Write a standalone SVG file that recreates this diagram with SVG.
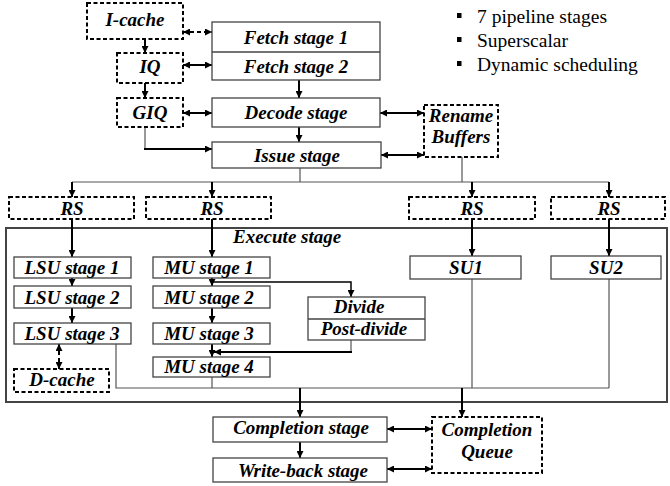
<svg xmlns="http://www.w3.org/2000/svg" width="670" height="486" viewBox="0 0 670 486">
<style>
.box{fill:#fff;stroke:#444;stroke-width:1.3}
.dbox{fill:#fff;stroke:#000;stroke-width:2;stroke-dasharray:4 2.5}
.t{font-family:"Liberation Serif","Times New Roman",serif;font-weight:bold;font-style:italic;font-size:19px;text-anchor:middle;fill:#000}
.b{font-family:"Liberation Serif","Times New Roman",serif;font-size:19.5px;fill:#000}
.thin{fill:none;stroke:#555;stroke-width:1.2}
.arr{fill:none;stroke:#000;stroke-width:2;marker-end:url(#ah)}
.darr{fill:none;stroke:#000;stroke-width:2;marker-end:url(#ah);marker-start:url(#ah)}
.ddarr{fill:none;stroke:#000;stroke-width:2;stroke-dasharray:4 3;marker-end:url(#ah);marker-start:url(#ah)}
</style>
<defs>
<marker id="ah" viewBox="0 0 10 10" refX="10" refY="5" markerWidth="7" markerHeight="7" markerUnits="userSpaceOnUse" orient="auto-start-reverse"><path d="M0,0 L10,5 L0,10 z" fill="#000"/></marker>
</defs>
<rect width="670" height="486" fill="#fff"/>

<g id="execute">
<rect x="6" y="228" width="661" height="174" fill="none" stroke="#444" stroke-width="2"/>
<text class="t" x="233" y="243" style="text-anchor:start">Execute stage</text>
</g>

<g id="connectors">
<line class="arr" x1="145" y1="39" x2="145" y2="53"/>
<line class="arr" x1="145" y1="83" x2="145" y2="98"/>
<line class="ddarr" x1="183" y1="32" x2="212" y2="32"/>
<line class="darr" x1="183" y1="65" x2="212" y2="65"/>
<line class="darr" x1="183" y1="113" x2="212" y2="113"/>
<line class="thin" x1="145" y1="127" x2="145" y2="149"/>
<line class="arr" x1="144" y1="149" x2="212" y2="149"/>
<line class="arr" x1="299" y1="80" x2="299" y2="98"/>
<line class="arr" x1="299" y1="127" x2="299" y2="142"/>
<line class="darr" x1="380" y1="113" x2="424" y2="113"/>
<line class="darr" x1="381" y1="155" x2="424" y2="155"/>
<line class="thin" x1="300" y1="168" x2="300" y2="182"/>
<line class="thin" x1="462" y1="157" x2="462" y2="182"/>
<line class="thin" x1="72" y1="182" x2="609" y2="182"/>
<line class="arr" x1="72" y1="182" x2="72" y2="197"/>
<line class="arr" x1="212" y1="182" x2="212" y2="197"/>
<line class="arr" x1="472" y1="182" x2="472" y2="197"/>
<line class="arr" x1="609" y1="182" x2="609" y2="197"/>
<line class="arr" x1="72" y1="219" x2="72" y2="257"/>
<line class="arr" x1="212" y1="219" x2="212" y2="257"/>
<line class="arr" x1="472" y1="219" x2="472" y2="256"/>
<line class="arr" x1="609" y1="219" x2="609" y2="256"/>
<line class="arr" x1="72" y1="278" x2="72" y2="286"/>
<line class="arr" x1="72" y1="308" x2="72" y2="323"/>
<line class="ddarr" x1="59" y1="344" x2="59" y2="369"/>
<line class="arr" x1="212" y1="278" x2="212" y2="286"/>
<line class="arr" x1="212" y1="308" x2="212" y2="323"/>
<line class="arr" x1="212" y1="344" x2="212" y2="357"/>
<polyline fill="none" stroke="#000" stroke-width="1.5" marker-end="url(#ah)" points="212,282 351,282 351,297"/>
<line class="thin" x1="351" y1="340" x2="351" y2="352"/>
<line class="arr" x1="352" y1="352" x2="214" y2="352"/>
<polyline class="thin" points="116,344 116,388 609,388"/>
<line class="thin" x1="212" y1="377" x2="212" y2="388"/>
<line class="thin" x1="472" y1="279" x2="472" y2="388"/>
<line class="thin" x1="609" y1="279" x2="609" y2="388"/>
<line class="arr" x1="300" y1="388" x2="300" y2="417"/>
<line class="arr" x1="462" y1="388" x2="462" y2="417"/>
<line class="arr" x1="300" y1="442" x2="300" y2="458"/>
<line class="darr" x1="387" y1="429" x2="432" y2="429"/>
<line class="darr" x1="387" y1="469" x2="432" y2="469"/>
</g>

<g id="icache"><rect class="dbox" x="87" y="3" width="96" height="36"/><text class="t" x="135" y="26">I-cache</text></g>
<g id="iq"><rect class="dbox" x="117" y="53" width="66" height="30"/><text class="t" x="150" y="73">IQ</text></g>
<g id="giq"><rect class="dbox" x="117" y="98" width="66" height="29"/><text class="t" x="150" y="119">GIQ</text></g>
<g id="fetch"><rect class="box" x="212" y="22" width="168" height="58"/><line x1="212" y1="52" x2="380" y2="52" stroke="#444" stroke-width="1.3"/>
<text class="t" x="296" y="44">Fetch stage 1</text><text class="t" x="296" y="73">Fetch stage 2</text></g>
<g id="decode"><rect class="box" x="212" y="98" width="168" height="29"/><text class="t" x="296" y="119">Decode stage</text></g>
<g id="issue"><rect class="box" x="212" y="142" width="169" height="26"/><text class="t" x="297" y="162">Issue stage</text></g>
<g id="rename"><rect class="dbox" x="424" y="105" width="74" height="52"/><text class="t" x="461" y="122">Rename</text><text class="t" x="461" y="143">Buffers</text></g>

<g id="bullets">
<rect x="457" y="13" width="4.5" height="5" fill="#000"/><text class="b" x="477" y="23">7 pipeline stages</text>
<rect x="457" y="37" width="4.5" height="5" fill="#000"/><text class="b" x="477" y="47">Superscalar</text>
<rect x="457" y="61" width="4.5" height="5" fill="#000"/><text class="b" x="477" y="71">Dynamic scheduling</text>
</g>

<g id="rs1"><rect class="dbox" x="9" y="197" width="125" height="22"/><text class="t" x="72" y="215">RS</text></g>
<g id="rs2"><rect class="dbox" x="146" y="197" width="125" height="22"/><text class="t" x="212" y="215">RS</text></g>
<g id="rs3"><rect class="dbox" x="409" y="197" width="126" height="22"/><text class="t" x="472" y="215">RS</text></g>
<g id="rs4"><rect class="dbox" x="551" y="197" width="114" height="22"/><text class="t" x="609" y="215">RS</text></g>

<g id="lsu1"><rect class="box" x="14" y="257" width="117" height="21"/><text class="t" x="72" y="274">LSU stage 1</text></g>
<g id="lsu2"><rect class="box" x="14" y="286" width="117" height="22"/><text class="t" x="72" y="304">LSU stage 2</text></g>
<g id="lsu3"><rect class="box" x="14" y="323" width="117" height="21"/><text class="t" x="72" y="340">LSU stage 3</text></g>
<g id="dcache"><rect class="dbox" x="14" y="369" width="95" height="23"/><text class="t" x="62" y="386">D-cache</text></g>
<g id="mu1"><rect class="box" x="153" y="257" width="117" height="21"/><text class="t" x="209" y="274">MU stage 1</text></g>
<g id="mu2"><rect class="box" x="153" y="286" width="117" height="22"/><text class="t" x="209" y="304">MU stage 2</text></g>
<g id="mu3"><rect class="box" x="153" y="323" width="117" height="21"/><text class="t" x="209" y="340">MU stage 3</text></g>
<g id="mu4"><rect class="box" x="153" y="357" width="117" height="20"/><text class="t" x="209" y="373">MU stage 4</text></g>
<g id="divide"><rect class="box" x="308" y="297" width="117" height="43"/><line x1="308" y1="319" x2="425" y2="319" stroke="#444" stroke-width="1.3"/>
<text class="t" x="359" y="313">Divide</text><text class="t" x="364" y="335">Post-divide</text></g>
<g id="su1"><rect class="box" x="410" y="256" width="111" height="23"/><text class="t" x="466" y="274">SU1</text></g>
<g id="su2"><rect class="box" x="551" y="256" width="110" height="23"/><text class="t" x="606" y="274">SU2</text></g>

<g id="completion"><rect class="box" x="213" y="417" width="174" height="25"/><text class="t" x="301" y="434">Completion stage</text></g>
<g id="writeback"><rect class="box" x="213" y="458" width="174" height="24"/><text class="t" x="303" y="477">Write-back stage</text></g>
<g id="cqueue"><rect class="dbox" x="432" y="417" width="110" height="56"/><text class="t" x="487" y="436">Completion</text><text class="t" x="487" y="458">Queue</text></g>
</svg>
